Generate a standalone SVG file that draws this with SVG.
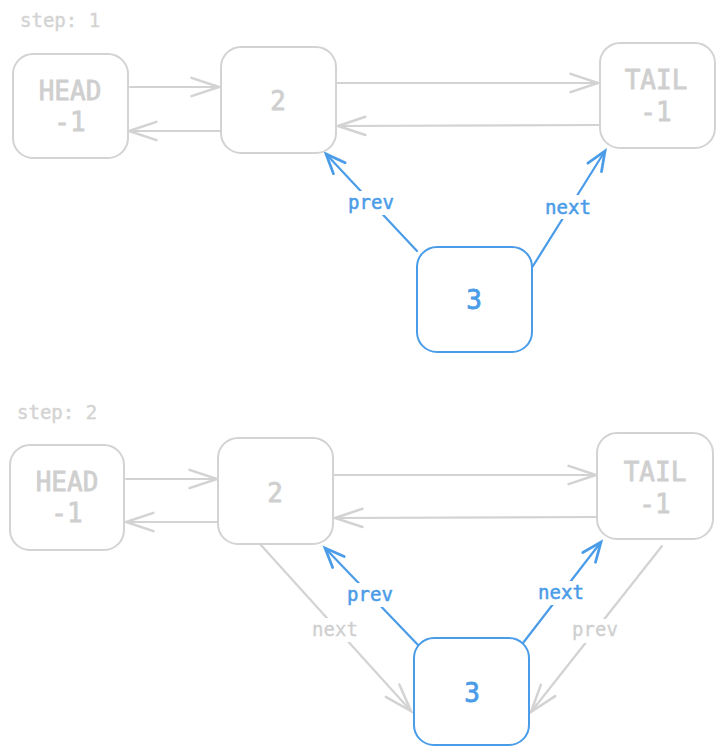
<svg xmlns="http://www.w3.org/2000/svg" width="724" height="754" viewBox="0 0 724 754">
<style>
.box{fill:#fff;stroke:#d3d3d3;stroke-width:2}
.bbox{fill:#fff;stroke:#4a9ce8;stroke-width:2}
.ln{fill:none;stroke:#d3d3d3;stroke-width:2.2;stroke-linecap:round}
.bln{fill:none;stroke:#4a9ce8;stroke-width:2.2;stroke-linecap:round}
.t{font-family:"DejaVu Sans Mono","Liberation Mono",monospace;font-size:26px;fill:#cfcfcf;stroke:#cfcfcf;stroke-width:0.8;text-anchor:middle}
.bt{font-family:"DejaVu Sans Mono","Liberation Mono",monospace;font-size:26px;fill:#4a9ce8;stroke:#4a9ce8;stroke-width:0.8;text-anchor:middle}
.lb{font-family:"DejaVu Sans Mono","Liberation Mono",monospace;font-size:19px;fill:#4a9ce8;stroke:#4a9ce8;stroke-width:0.5;text-anchor:middle}
.lg{font-family:"DejaVu Sans Mono","Liberation Mono",monospace;font-size:19px;fill:#cfcfcf;stroke:#cfcfcf;stroke-width:0.3;text-anchor:middle}
.st{font-family:"DejaVu Sans Mono","Liberation Mono",monospace;font-size:19px;fill:#d3d3d3;stroke:#d3d3d3;stroke-width:0.4}
</style>
<defs>
<marker id="ag" markerUnits="userSpaceOnUse" markerWidth="40" markerHeight="40" refX="0" refY="0" viewBox="-30 -15 35 30" orient="auto" overflow="visible">
<path d="M-24,-8 L0,0 L-24,8" fill="none" stroke="#d3d3d3" stroke-width="2.2" stroke-linecap="round"/>
</marker>
<marker id="ab" markerUnits="userSpaceOnUse" markerWidth="40" markerHeight="40" refX="0" refY="0" viewBox="-30 -15 35 30" orient="auto" overflow="visible">
<path d="M-17,-7 L0,0 L-17,7" fill="none" stroke="#4a9ce8" stroke-width="2.4" stroke-linecap="round"/>
</marker>
</defs>

<text class="st" x="20" y="27">step: 1</text>
<text class="st" x="17" y="419">step: 2</text>

<g id="connectors">
<!-- step 1 -->
<line class="ln" x1="130" y1="87" x2="219" y2="87" marker-end="url(#ag)"/>
<line class="ln" x1="221" y1="131" x2="129" y2="131" marker-end="url(#ag)"/>
<line class="ln" x1="337" y1="83" x2="598" y2="83" marker-end="url(#ag)"/>
<line class="ln" x1="600" y1="125" x2="338" y2="126" marker-end="url(#ag)"/>
<line class="bln" x1="417" y1="251" x2="326" y2="154" marker-end="url(#ab)"/>
<line class="bln" x1="533" y1="266" x2="605" y2="151" marker-end="url(#ab)"/>
<!-- step 2 -->
<line class="ln" x1="126" y1="479" x2="217" y2="479" marker-end="url(#ag)"/>
<line class="ln" x1="218" y1="522" x2="126" y2="522" marker-end="url(#ag)"/>
<line class="ln" x1="334" y1="475" x2="596" y2="475" marker-end="url(#ag)"/>
<line class="ln" x1="597" y1="517" x2="335" y2="518" marker-end="url(#ag)"/>
<line class="ln" x1="260" y1="544" x2="411" y2="711" marker-end="url(#ag)"/>
<line class="ln" x1="662" y1="546" x2="531" y2="712" marker-end="url(#ag)"/>
<line class="bln" x1="419" y1="646" x2="325" y2="548" marker-end="url(#ab)"/>
<line class="bln" x1="523" y1="643" x2="601" y2="542" marker-end="url(#ab)"/>

<!-- labels -->
<rect x="344" y="191" width="54" height="24" fill="#fff"/>
<text class="lb" x="371" y="209">prev</text>
<rect x="542" y="195" width="52" height="24" fill="#fff"/>
<text class="lb" x="568" y="214">next</text>
<rect x="343" y="583" width="54" height="24" fill="#fff"/>
<text class="lb" x="370" y="601">prev</text>
<rect x="535" y="581" width="52" height="24" fill="#fff"/>
<text class="lb" x="561" y="599">next</text>
<rect x="309" y="618" width="52" height="24" fill="#fff"/>
<text class="lg" x="335" y="636">next</text>
<rect x="569" y="619" width="52" height="24" fill="#fff"/>
<text class="lg" x="595" y="636">prev</text>
</g>

<g id="head1"><rect class="box" x="13" y="54" width="115" height="104" rx="20"/><text class="t" x="70" y="100">HEAD</text><text class="t" x="70" y="131">-1</text></g>
<g id="n2a"><rect class="box" x="221" y="47" width="115" height="106" rx="20"/><text class="t" x="278" y="110">2</text></g>
<g id="tail1"><rect class="box" x="600" y="43" width="115" height="105" rx="20"/><text class="t" x="656" y="89">TAIL</text><text class="t" x="656" y="121">-1</text></g>
<g id="n3a"><rect class="bbox" x="417" y="247" width="115" height="105" rx="20"/><text class="bt" x="474" y="309">3</text></g>

<g id="head2"><rect class="box" x="10" y="445" width="114" height="105" rx="20"/><text class="t" x="67" y="491">HEAD</text><text class="t" x="67" y="522">-1</text></g>
<g id="n2b"><rect class="box" x="218" y="438" width="115" height="106" rx="20"/><text class="t" x="275" y="502">2</text></g>
<g id="tail2"><rect class="box" x="597" y="433" width="116" height="106" rx="20"/><text class="t" x="655" y="481">TAIL</text><text class="t" x="655" y="513">-1</text></g>
<g id="n3b"><rect class="bbox" x="414" y="638" width="115" height="107" rx="20"/><text class="bt" x="472" y="702">3</text></g>
</svg>
